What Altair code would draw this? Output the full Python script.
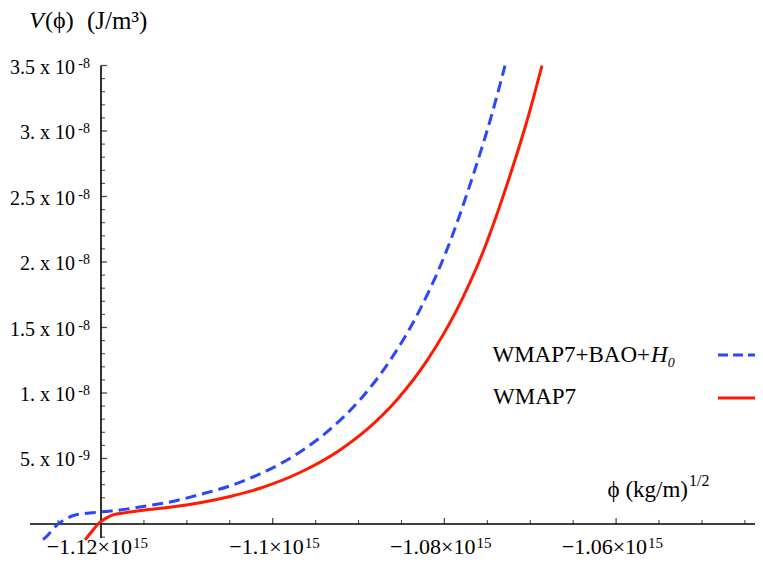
import altair as alt
import pandas as pd

# ---- data (phi in units of 1e15 (kg/m)^1/2, V in units of 1e-9 J/m^3) ----
blue_phi = [-1.12676, -1.12617, -1.12559, -1.12501, -1.12431, -1.12338, -1.12186, -1.12000,
            -1.11779, -1.11511, -1.11196, -1.10847, -1.10497, -1.10148, -1.09915, -1.09647,
            -1.09333, -1.08983, -1.08634, -1.08284, -1.07993, -1.07667, -1.07446, -1.07294]
blue_V = [-1.2, -0.84, -0.38, 0.0, 0.31, 0.61, 0.80, 0.92,
          1.07, 1.34, 1.68, 2.25, 2.91, 3.82, 4.58, 5.65,
          7.22, 9.49, 12.47, 16.38, 20.57, 26.6, 31.3, 35.0]

red_phi = [-1.12186, -1.12140, -1.12093, -1.12035, -1.11977, -1.11918, -1.11860, -1.11720,
           -1.11511, -1.11196, -1.10847, -1.10497, -1.10148, -1.09682, -1.09216, -1.08902,
           -1.08552, -1.08203, -1.07853, -1.07562, -1.07236, -1.07015, -1.06863]
red_V = [-1.2, -0.84, -0.46, 0.0, 0.31, 0.53, 0.69, 0.86,
         1.05, 1.28, 1.62, 2.10, 2.73, 3.93, 5.65, 7.22,
         9.49, 12.47, 16.38, 20.57, 26.6, 31.3, 35.0]

y_major = [5, 10, 15, 20, 25, 30, 35]
y_major_mant = ["5. x 10", "1. x 10", "1.5 x 10", "2. x 10", "2.5 x 10", "3. x 10", "3.5 x 10"]
y_major_exp = ["-9", "-8", "-8", "-8", "-8", "-8", "-8"]
y_minor = [v for v in range(-1, 35) if v % 5 != 0]

x_major = [-1.12, -1.10, -1.08, -1.06]
x_major_mant = ["−1.12×10", "−1.1×10", "−1.08×10", "−1.06×10"]
x_major_exp = ["15", "15", "15", "15"]
x_minor = [-1.125, -1.115, -1.110, -1.105, -1.095, -1.090, -1.085, -1.075,
           -1.070, -1.065, -1.055, -1.050, -1.045]

AXIS_X = -1.12   # where the vertical axis crosses
BLUE = "#2a46ff"
RED = "#ff1a00"
FONT = "Liberation Serif"

H = 551
xs = alt.Scale(domain=[-1.130833, -1.043821], nice=False, zero=False)
ys = alt.Scale(domain=[-2.672, 39.39], nice=False, zero=False)

one = pd.DataFrame({"k": [0]})

blue_df = pd.DataFrame({"phi": blue_phi, "V": blue_V})
red_df = pd.DataFrame({"phi": red_phi, "V": red_V})

blue = alt.Chart(blue_df).mark_line(color=BLUE, strokeWidth=3, strokeDash=[11, 6],
                                    interpolate="monotone").encode(
    x=alt.X("phi:Q", scale=xs, axis=None), y=alt.Y("V:Q", scale=ys, axis=None))
red = alt.Chart(red_df).mark_line(color=RED, strokeWidth=3,
                                  interpolate="monotone").encode(
    x=alt.X("phi:Q", scale=xs, axis=None), y=alt.Y("V:Q", scale=ys, axis=None))

# axis lines
xaxis = alt.Chart(one).mark_rule(color="black", strokeWidth=1.6).encode(
    x=alt.value(22), x2=alt.value(747), y=alt.Y(datum=0, scale=ys, axis=None))
yaxis = alt.Chart(one).mark_rule(color="black", strokeWidth=1.6).encode(
    x=alt.X(datum=AXIS_X, scale=xs, axis=None),
    y=alt.Y(datum=-1.07, scale=ys, axis=None), y2=alt.Y2(datum=35))

# ticks
ymaj_df = pd.DataFrame({"V": y_major, "mant": y_major_mant, "exp": y_major_exp})
ymin_df = pd.DataFrame({"V": y_minor})
xmaj_df = pd.DataFrame({"phi": x_major, "mant": x_major_mant, "exp": x_major_exp})
xmin_df = pd.DataFrame({"phi": x_minor})

ytick_major = alt.Chart(ymaj_df).mark_tick(orient="horizontal", size=6, thickness=1.3,
                                           xOffset=3, color="black").encode(
    x=alt.X(datum=AXIS_X, scale=xs, axis=None), y=alt.Y("V:Q", scale=ys, axis=None))
ytick_minor = alt.Chart(ymin_df).mark_tick(orient="horizontal", size=4, thickness=1.1,
                                           xOffset=2, color="black").encode(
    x=alt.X(datum=AXIS_X, scale=xs, axis=None), y=alt.Y("V:Q", scale=ys, axis=None))
xtick_major = alt.Chart(xmaj_df).mark_tick(orient="vertical", size=6, thickness=1.3,
                                           yOffset=-3, color="black").encode(
    x=alt.X("phi:Q", scale=xs, axis=None), y=alt.Y(datum=0, scale=ys, axis=None))
xtick_minor = alt.Chart(xmin_df).mark_tick(orient="vertical", size=4, thickness=1.1,
                                           yOffset=-2, color="black").encode(
    x=alt.X("phi:Q", scale=xs, axis=None), y=alt.Y(datum=0, scale=ys, axis=None))

ylab_mant = alt.Chart(ymaj_df).mark_text(align="right", baseline="alphabetic", dx=-26, dy=8,
                                         font=FONT, fontSize=20, color="black").encode(
    x=alt.X(datum=AXIS_X, scale=xs, axis=None), y=alt.Y("V:Q", scale=ys, axis=None),
    text="mant:N")
ylab_exp = alt.Chart(ymaj_df).mark_text(align="right", baseline="alphabetic", dx=-11, dy=2,
                                        font=FONT, fontSize=14, color="black").encode(
    x=alt.X(datum=AXIS_X, scale=xs, axis=None), y=alt.Y("V:Q", scale=ys, axis=None),
    text="exp:N")
xlab_mant = alt.Chart(xmaj_df).mark_text(align="right", baseline="alphabetic", dx=31, dy=30,
                                         font=FONT, fontSize=22, color="black").encode(
    x=alt.X("phi:Q", scale=xs, axis=None), y=alt.Y(datum=0, scale=ys, axis=None),
    text="mant:N")
xlab_exp = alt.Chart(xmaj_df).mark_text(align="right", baseline="alphabetic", dx=47, dy=24,
                                        font=FONT, fontSize=15, color="black").encode(
    x=alt.X("phi:Q", scale=xs, axis=None), y=alt.Y(datum=0, scale=ys, axis=None),
    text="exp:N")

def label(txt, x, y, align="left", size=23, style="normal", baseline="middle"):
    return alt.Chart(one).mark_text(text=txt, align=align, baseline=baseline, font=FONT,
                                    fontSize=size, fontStyle=style, color="black").encode(
        x=alt.value(x), y=alt.value(y))

ytitle_a = label("V", 36, 13, align="right", style="italic", size=24)
ytitle_b = label("(ϕ)", 37, 13, size=24)
ytitle_c = label("(J/m³)", 79, 13, size=25)
xtitle_a = label("ϕ  (kg/m)", 680, 482, align="right")
xtitle_b = label("1/2", 681, 473, size=16)

leg1a = label("WMAP7+BAO+", 642, 347, align="right")
leg1b = label("H₀", 643, 347, style="italic")
leg2 = label("WMAP7", 485, 389)

leg1_line = alt.Chart(one).mark_rule(color=BLUE, strokeWidth=3, strokeDash=[10, 5]).encode(
    x=alt.value(710), x2=alt.value(747), y=alt.value(347))
leg2_line = alt.Chart(one).mark_rule(color=RED, strokeWidth=3).encode(
    x=alt.value(710), x2=alt.value(747), y=alt.value(390))

chart = alt.layer(
    xaxis, yaxis, ytick_major, ytick_minor, xtick_major, xtick_minor,
    ylab_mant, ylab_exp, xlab_mant, xlab_exp, blue, red,
    ytitle_a, ytitle_b, ytitle_c, xtitle_a, xtitle_b, leg1a, leg1b, leg2,
    leg1_line, leg2_line,
).properties(
    width=747, height=H, padding=0,
    autosize=alt.AutoSizeParams(type="none"),
).configure_view(stroke=None)

chart.save("out.html", embed_options={"renderer": "svg", "actions": False})
